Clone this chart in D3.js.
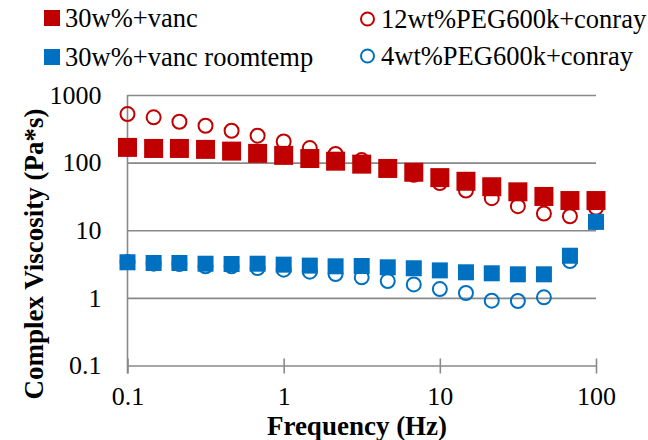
<!DOCTYPE html>
<html lang="en">
<head>
<meta charset="UTF-8">
<title>Complex viscosity vs frequency</title>
<script src="https://d3js.org/d3.v7.min.js"></script>
<style>
  body { margin: 0; background: #fff; }
  svg { display: block; }
  text { font-family: "Liberation Serif", "Times New Roman", serif; fill: #000; }
  .grid line { stroke: #898989; stroke-width: 1.6; }
  .axis text { font-family: "Liberation Serif", "Times New Roman", serif; font-size: 26px; fill: #000; }
  .title { font-size: 27px; font-weight: bold; }
  .legend text { font-size: 26.5px; }
</style>
</head>
<body>
<svg id="chart" width="648" height="440"></svg>
<script>
// frequency (Hz), 6 points per decade
const freq = [0.1, 0.147, 0.215, 0.316, 0.464, 0.681, 1, 1.47, 2.15, 3.16, 4.64, 6.81, 10, 14.7, 21.5, 31.6, 46.4, 68.1, 100];

// complex viscosity (Pa*s)
const vanc30 = [168, 162, 162, 157, 148, 137, 128, 115, 105, 95, 82, 72, 60, 53, 44, 37, 31.6, 27.5, 27.5];
const peg12 = [523, 468, 402, 351, 296, 250, 206, 164, 134, 109, 85, 66, 50, 38.7, 29.8, 22.7, 17.7, 16.1, 21.5];
const vanc30Room = [3.36, 3.28, 3.28, 3.2, 3.17, 3.2, 3.1, 3.0, 2.93, 2.96, 2.83, 2.74, 2.55, 2.39, 2.31, 2.23, 2.23, 4.2, 13.3];
const peg4 = [3.4, 3.2, 3.17, 2.93, 2.93, 2.76, 2.61, 2.44, 2.25, 2.01, 1.77, 1.58, 1.35, 1.18, 0.91, 0.9, 1.02, 3.5, 13.3];

const seriesNames = ["30w%+vanc", "12wt%PEG600k+conray", "30w%+vanc roomtemp", "4wt%PEG600k+conray"];
const xTicks = [0.1, 1, 10, 100];
const yTicks = [0.1, 1, 10, 100, 1000];

const red = "#C00000", blue = "#0070C0";
const serif = '"Liberation Serif", "Times New Roman", serif';
// draw order: circles under squares, blue over red
const series = [
  { name: seriesNames[1], values: peg12, color: red, shape: "circle" },
  { name: seriesNames[0], values: vanc30, color: red, shape: "square", size: 19 },
  { name: seriesNames[3], values: peg4, color: blue, shape: "circle" },
  { name: seriesNames[2], values: vanc30Room, color: blue, shape: "square", size: 16 }
];

const svg = d3.select("#chart");
const plotL = 127.5, plotR = 596, plotT = 95, plotB = 365.5;

const x = d3.scaleLog().domain([0.1, 100]).range([plotL, plotR]);
const y = d3.scaleLog().domain([0.1, 1000]).range([plotB, plotT]);

// horizontal gridlines
svg.append("g")
  .attr("class", "grid")
  .attr("transform", `translate(${plotL},0)`)
  .call(d3.axisLeft(y).tickValues(yTicks.slice(1)).tickSize(-(plotR - plotL)).tickFormat(""))
  .call(g => g.select(".domain").remove());

// y tick labels
svg.append("g")
  .attr("class", "axis")
  .attr("transform", `translate(${plotL},0)`)
  .call(d3.axisLeft(y).tickValues(yTicks).tickSize(0).tickPadding(26).tickFormat(d => d))
  .call(g => g.select(".domain").remove())
  .call(g => g.selectAll("text").style("font-family", serif));

// y axis line
svg.append("line")
  .attr("x1", plotL).attr("x2", plotL)
  .attr("y1", plotT).attr("y2", plotB + 8)
  .attr("stroke", "#898989").attr("stroke-width", 1.6);

// x axis with crossing ticks
svg.append("g")
  .attr("class", "axis")
  .attr("transform", `translate(0,${plotB})`)
  .call(d3.axisBottom(x).tickValues(xTicks).tickSizeInner(8).tickSizeOuter(0).tickPadding(13).tickFormat(d => d))
  .call(g => g.select(".domain").attr("stroke", "#898989").attr("stroke-width", 1.6))
  .call(g => g.selectAll(".tick line").attr("y1", -7).attr("stroke", "#898989").attr("stroke-width", 1.6))
  .call(g => g.selectAll("text").style("font-family", serif));

// markers
series.forEach(s => {
  const g = svg.append("g");
  const pts = freq.map((f, i) => ({ f: f, v: s.values[i] }));
  if (s.shape === "circle") {
    g.selectAll("circle").data(pts).join("circle")
      .attr("cx", d => x(d.f)).attr("cy", d => y(d.v)).attr("r", 7)
      .attr("fill", "none").attr("stroke", s.color).attr("stroke-width", 2);
  } else {
    g.selectAll("rect").data(pts).join("rect")
      .attr("x", d => x(d.f) - s.size / 2).attr("y", d => y(d.v) - s.size / 2)
      .attr("width", s.size).attr("height", s.size)
      .attr("fill", s.color);
  }
});

// axis titles
svg.append("text").attr("class", "title")
  .attr("x", 357).attr("y", 434.5).attr("text-anchor", "middle")
  .text("Frequency (Hz)");
svg.append("text").attr("class", "title")
  .attr("transform", "translate(43,254) rotate(-90)").attr("text-anchor", "middle")
  .text("Complex Viscosity (Pa*s)");

// legend, two columns
const legendItems = [
  { name: seriesNames[0], color: red, shape: "square", lx: 44, ly: 18 },
  { name: seriesNames[1], color: red, shape: "circle", lx: 360, ly: 19 },
  { name: seriesNames[2], color: blue, shape: "square", lx: 44, ly: 57 },
  { name: seriesNames[3], color: blue, shape: "circle", lx: 360, ly: 56 }
];
const legend = svg.append("g").attr("class", "legend");
legendItems.forEach(it => {
  if (it.shape === "square") {
    legend.append("rect").attr("x", it.lx).attr("y", it.ly - 8).attr("width", 16).attr("height", 16).attr("fill", it.color);
  } else {
    legend.append("circle").attr("cx", it.lx + 7.5).attr("cy", it.ly).attr("r", 6.5)
      .attr("fill", "none").attr("stroke", it.color).attr("stroke-width", 2);
  }
  legend.append("text").attr("x", it.lx + 21).attr("y", it.ly + 9).text(it.name);
});
</script>
</body>
</html>
